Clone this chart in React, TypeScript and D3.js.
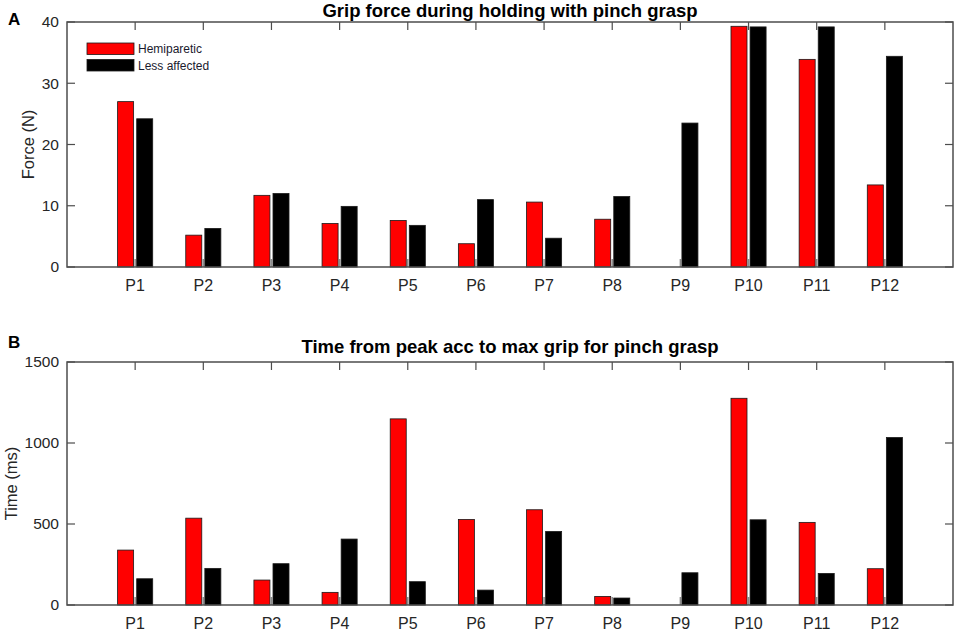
import React from 'react';
import * as d3 from 'd3';

const participants = ['P1', 'P2', 'P3', 'P4', 'P5', 'P6', 'P7', 'P8', 'P9', 'P10', 'P11', 'P12'];

// Panel A: grip force (N)
const forceHemi = [27.0, 5.2, 11.7, 7.1, 7.6, 3.8, 10.6, 7.8, 0, 39.3, 33.9, 13.4];
const forceLess = [24.2, 6.3, 12.0, 9.9, 6.8, 11.0, 4.7, 11.5, 23.5, 39.2, 39.2, 34.4];
const forceTicks = [0, 10, 20, 30, 40];

// Panel B: time from peak acc to max grip (ms)
const timeHemi = [339, 536, 154, 78, 1149, 528, 588, 53, 0, 1276, 510, 224];
const timeLess = [162, 226, 255, 407, 144, 92, 454, 43, 199, 526, 195, 1034];
const timeTicks = [0, 500, 1000, 1500];

const seriesNames = ['Hemiparetic', 'Less affected'];
const seriesColors = ['#ff0000', '#000000'];

const W = 957;
const H = 631;
const left = 67;
const right = 953;
const font = 'Liberation Sans, Arial, sans-serif';
const axisColor = '#4d4d4d';
const textColor = '#262626';

interface PanelProps {
  letter: string;
  letterY: number;
  title: string;
  titleY: number;
  yLabel: string;
  yLabelX: number;
  top: number;
  bottom: number;
  yMax: number;
  ticks: number[];
  hemi: number[];
  less: number[];
  legend?: boolean;
}

const Panel: React.FC<PanelProps> = ({ letter, letterY, title, titleY, yLabel, yLabelX, top, bottom, yMax, ticks, hemi, less, legend }) => {
  const x = d3.scaleLinear().domain([0, participants.length + 1]).range([left, right]);
  const y = d3.scaleLinear().domain([0, yMax]).range([bottom, top]);
  const offset = 0.14;
  const barW = x(0.235) - x(0);
  const tickLen = 8;

  return (
    <g>
      <text x={8} y={letterY} fontFamily={font} fontWeight="bold" fontSize={17} fill="#000">
        {letter}
      </text>
      <text x={(left + right) / 2} y={titleY} textAnchor="middle" fontFamily={font} fontWeight="bold" fontSize={18.5} fill="#000">
        {title}
      </text>

      {/* bottom category ticks, behind the bars */}
      {participants.map((p, i) => (
        <line key={'bt' + p} x1={x(i + 1)} x2={x(i + 1)} y1={bottom} y2={bottom - tickLen} stroke="#8c8c8c" strokeWidth={1.5} />
      ))}

      {participants.map((p, i) => (
        <g key={'bar' + p}>
          <rect
            x={x(i + 1 - offset) - barW / 2}
            y={y(hemi[i])}
            width={barW}
            height={bottom - y(hemi[i])}
            fill={seriesColors[0]}
            stroke="#1a1a1a"
            strokeWidth={0.8}
          />
          <rect
            x={x(i + 1 + offset) - barW / 2}
            y={y(less[i])}
            width={barW}
            height={bottom - y(less[i])}
            fill={seriesColors[1]}
            stroke="#1a1a1a"
            strokeWidth={0.8}
          />
        </g>
      ))}

      {/* axes box */}
      <rect x={left} y={top} width={right - left} height={bottom - top} fill="none" stroke={axisColor} strokeWidth={1.5} />

      {participants.map((p, i) => (
        <g key={'xt' + p}>
          <line x1={x(i + 1)} x2={x(i + 1)} y1={top} y2={top + tickLen} stroke={axisColor} strokeWidth={1.2} />
          <text x={x(i + 1)} y={bottom + 24} textAnchor="middle" fontFamily={font} fontSize={16} fill={textColor}>
            {p}
          </text>
        </g>
      ))}

      {ticks.map((t) => (
        <g key={'yt' + t}>
          <line x1={left} x2={left + tickLen} y1={y(t)} y2={y(t)} stroke={axisColor} strokeWidth={1.2} />
          <line x1={right} x2={right - tickLen} y1={y(t)} y2={y(t)} stroke={axisColor} strokeWidth={1.2} />
          <text x={left - 8} y={y(t)} dy="0.35em" textAnchor="end" fontFamily={font} fontSize={15.5} fill={textColor}>
            {t}
          </text>
        </g>
      ))}

      <text
        transform={`translate(${yLabelX},${(top + bottom) / 2}) rotate(-90)`}
        textAnchor="middle"
        dy="0.35em"
        fontFamily={font}
        fontSize={16.5}
        fill={textColor}
      >
        {yLabel}
      </text>

      {legend &&
        seriesNames.map((name, i) => (
          <g key={name}>
            <rect x={87} y={43 + i * 16.5} width={47} height={11.5} fill={seriesColors[i]} stroke="#1a1a1a" strokeWidth={0.8} />
            <text x={138} y={49 + i * 16.5} dy="0.35em" fontFamily={font} fontSize={12} fill="#1a1a2e">
              {name}
            </text>
          </g>
        ))}
    </g>
  );
};

export default function App() {
  return (
    <svg width={W} height={H} style={{ position: 'absolute', left: 0, top: 0, background: '#fff' }}>
      <rect width={W} height={H} fill="#fff" />
      <Panel
        letter="A"
        letterY={25}
        title="Grip force during holding with pinch grasp"
        titleY={17}
        yLabel="Force (N)"
        yLabelX={28}
        top={22}
        bottom={267}
        yMax={40}
        ticks={forceTicks}
        hemi={forceHemi}
        less={forceLess}
        legend
      />
      <Panel
        letter="B"
        letterY={348}
        title="Time from peak acc to max grip for pinch grasp"
        titleY={353}
        yLabel="Time (ms)"
        yLabelX={11}
        top={362}
        bottom={605}
        yMax={1500}
        ticks={timeTicks}
        hemi={timeHemi}
        less={timeLess}
      />
    </svg>
  );
}
